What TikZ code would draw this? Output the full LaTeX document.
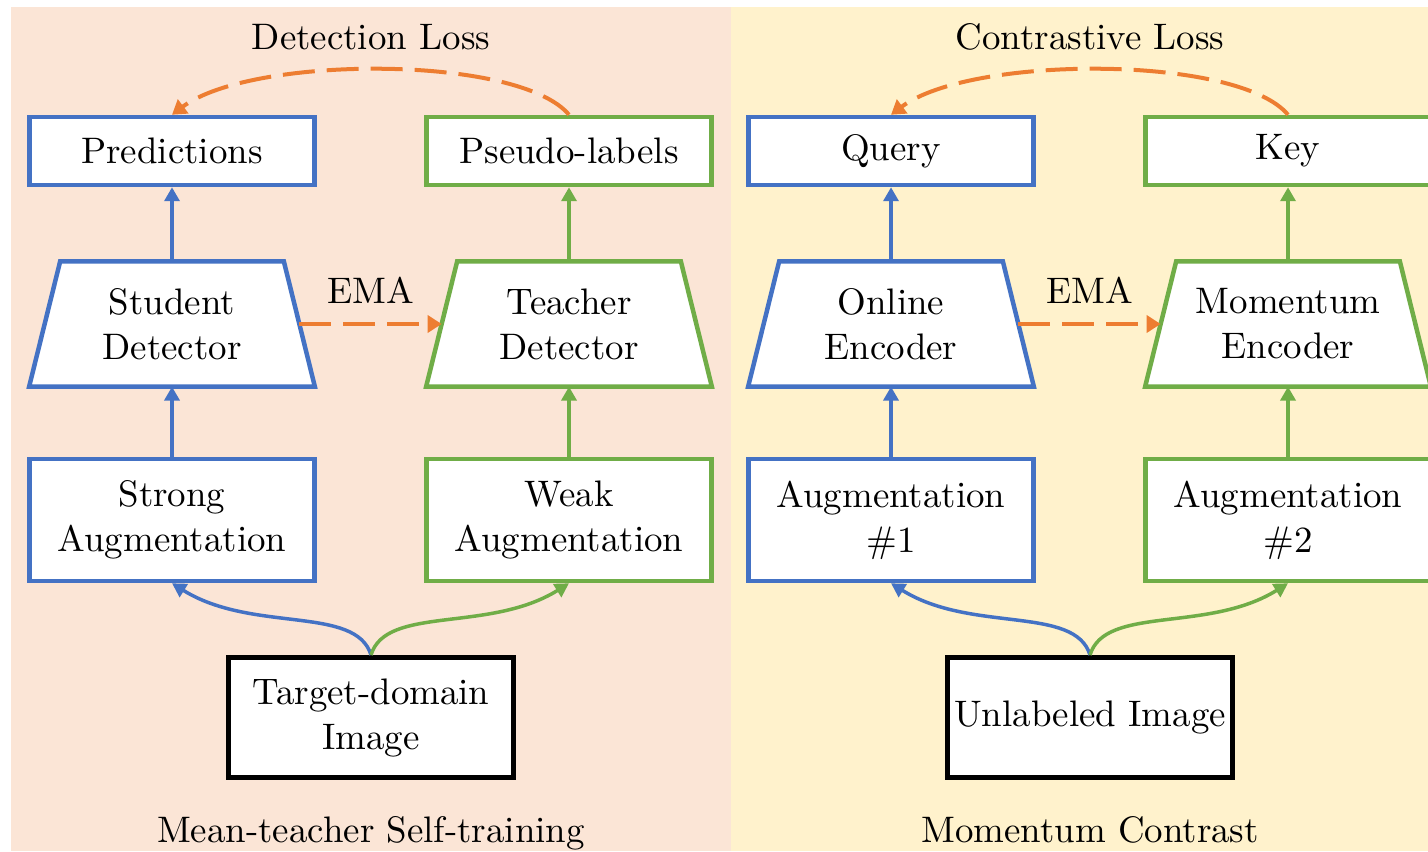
\documentclass[tikz,border=0pt]{standalone}
\usepackage{fontspec}
\usepackage{tikz}
\usetikzlibrary{arrows.meta,positioning,backgrounds}

\newfontfamily\lmten{lmroman10-regular}[Extension=.otf]

\definecolor{mtblue}{HTML}{4472C4}
\definecolor{mtgreen}{HTML}{70AD47}
\definecolor{mtorange}{HTML}{ED7D31}
\definecolor{mtpeach}{HTML}{FBE5D6}
\definecolor{mtyellow}{HTML}{FFF2CC}

\tikzset{
  txt/.style={font=\lmten\fontsize{21}{25.6}\selectfont, align=center, inner sep=0pt},
  box/.style={txt, draw, fill=white, line width=0.09cm, minimum width=5.7cm, minimum height=1.36cm},
  tallbox/.style={box, minimum height=2.44cm},
  netbox/.style={txt, minimum width=5.7cm, minimum height=2.49cm},
  netline/.style={line width=0.09cm, fill=white, line join=miter},
  imgbox/.style={box, draw=black, line width=0.1cm, minimum height=2.4cm},
  flow/.style={line width=0.07cm, -{Triangle[length=0.28cm,width=0.3cm]}},
  ema/.style={mtorange, line width=0.08cm, dash pattern=on 0.64cm off 0.24cm, -{Triangle[length=0.28cm,width=0.34cm]}},
}

% trapezoid outline behind a network node
\newcommand{\trapez}[2]{%
  \draw[netline, draw=#2] (#1.south west) -- ([xshift=0.62cm]#1.north west)
    -- ([xshift=-0.62cm]#1.north east) -- (#1.south east) -- cycle;}

\begin{document}
\begin{tikzpicture}
\useasboundingbox (0,0) rectangle (28.56,17.02);
\clip (0,0) rectangle (28.56,17.02);

% Mean-teacher self-training
\begin{scope}[xshift=0cm]
  \node[box, draw=mtblue] (pred) at (3.44,14.0) {Predictions};
  \node[box, draw=mtgreen] (pseudo) at (11.38,14.0) {Pseudo-labels};
  \node[netbox] (student) at (3.44,10.54) {Student\\Detector};
  \node[netbox] (teacher) at (11.38,10.54) {Teacher\\Detector};
  \node[tallbox, draw=mtblue] (strongaug) at (3.44,6.62) {Strong\\Augmentation};
  \node[tallbox, draw=mtgreen] (weakaug) at (11.38,6.62) {Weak\\Augmentation};
  \node[imgbox] (target) at (7.42,2.67) {Target-domain\\Image};
  \node[txt, anchor=base] (detloss) at (7.42,16.02) {Detection Loss};
  \node[txt, anchor=base] (ema1) at (7.42,10.96) {EMA};
  \node[txt, anchor=base] (mtcap) at (7.42,0.18) {Mean-teacher Self-training};

  \draw[flow, mtblue] (strongaug) -- (student);
  \draw[flow, mtblue] (student) -- (pred);
  \draw[flow, mtgreen] (weakaug) -- (teacher);
  \draw[flow, mtgreen] (teacher) -- (pseudo);
  \draw[flow, mtblue] (target.north) .. controls +(-0.3,1) and +(1.6,-1) .. (strongaug.south);
  \draw[flow, mtgreen] (target.north) .. controls +(0.3,1) and +(-1.6,-1) .. (weakaug.south);
  \draw[ema] ([xshift=-0.31cm]student.east) -- ([xshift=0.31cm]teacher.west);
  \draw[ema] (pseudo.north) .. controls +(-1,1.2) and +(1.6,1.2) .. (pred.north);
\end{scope}

% Momentum contrast
\begin{scope}[xshift=14.38cm]
  \node[box, draw=mtblue] (query) at (3.44,14.0) {Query};
  \node[box, draw=mtgreen] (key) at (11.38,14.0) {Key};
  \node[netbox] (online) at (3.44,10.54) {Online\\Encoder};
  \node[netbox] (momentum) at (11.38,10.54) {Momentum\\Encoder};
  \node[tallbox, draw=mtblue] (aug1) at (3.44,6.62) {Augmentation\\\#1};
  \node[tallbox, draw=mtgreen] (aug2) at (11.38,6.62) {Augmentation\\\#2};
  \node[imgbox] (unlab) at (7.42,2.67) {Unlabeled Image};
  \node[txt, anchor=base] (conloss) at (7.42,16.02) {Contrastive Loss};
  \node[txt, anchor=base] (ema2) at (7.42,10.96) {EMA};
  \node[txt, anchor=base] (mccap) at (7.42,0.18) {Momentum Contrast};

  \draw[flow, mtblue] (aug1) -- (online);
  \draw[flow, mtblue] (online) -- (query);
  \draw[flow, mtgreen] (aug2) -- (momentum);
  \draw[flow, mtgreen] (momentum) -- (key);
  \draw[flow, mtblue] (unlab.north) .. controls +(-0.3,1) and +(1.6,-1) .. (aug1.south);
  \draw[flow, mtgreen] (unlab.north) .. controls +(0.3,1) and +(-1.6,-1) .. (aug2.south);
  \draw[ema] ([xshift=-0.31cm]online.east) -- ([xshift=0.31cm]momentum.west);
  \draw[ema] (key.north) .. controls +(-1,1.2) and +(1.6,1.2) .. (query.north);
\end{scope}

% panels and encoder outlines go underneath
\begin{scope}[on background layer]
  \fill[mtpeach] (0.22,0) rectangle (14.62,16.88);
  \fill[mtyellow] (14.62,0) rectangle (28.6,16.88);
  \trapez{student}{mtblue}
  \trapez{teacher}{mtgreen}
  \trapez{online}{mtblue}
  \trapez{momentum}{mtgreen}
\end{scope}
\end{tikzpicture}
\end{document}
